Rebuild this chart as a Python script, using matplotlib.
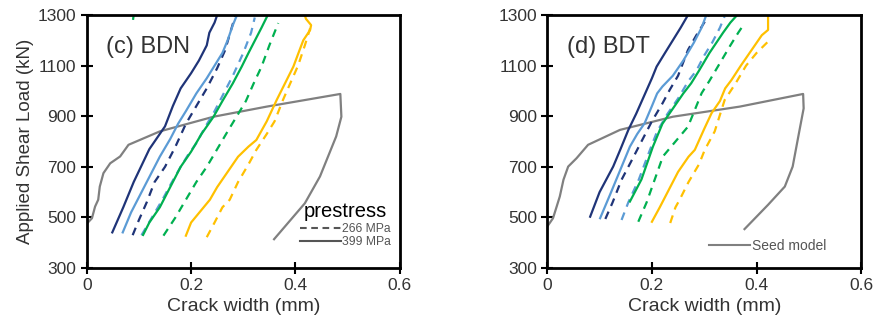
import matplotlib
matplotlib.use('Agg')
import matplotlib.pyplot as plt
from matplotlib.lines import Line2D

plt.rcParams['font.family'] = ['Liberation Sans', 'DejaVu Sans']

navy = '#1f3478'
lblue = '#5b9bd5'
green = '#00b050'
yellow = '#ffc000'
grey = '#808080'

# (c) BDN
c_navy_s_x = [0.049, 0.07, 0.09, 0.12, 0.13, 0.15, 0.165, 0.18, 0.2, 0.215, 0.23, 0.235, 0.245, 0.25]
c_navy_s_y = [441, 540, 640, 770, 800, 860, 940, 1010, 1070, 1120, 1180, 1230, 1270, 1300]
c_lblue_s_x = [0.069, 0.085, 0.1, 0.12, 0.14, 0.16, 0.175, 0.19, 0.21, 0.23, 0.245, 0.26, 0.27, 0.28, 0.288]
c_lblue_s_y = [441, 520, 580, 660, 740, 810, 870, 920, 990, 1050, 1100, 1150, 1200, 1260, 1300]
c_navy_d_x = [0.088, 0.1, 0.115, 0.13, 0.15, 0.17, 0.19, 0.21, 0.23, 0.25, 0.265, 0.275, 0.285]
c_navy_d_y = [430, 490, 560, 640, 700, 780, 870, 940, 1010, 1090, 1160, 1230, 1300]
c_lblue_d_x = [0.105, 0.125, 0.145, 0.162, 0.18, 0.195, 0.21, 0.225, 0.245, 0.26, 0.28, 0.3, 0.315, 0.322]
c_lblue_d_y = [430, 500, 570, 635, 700, 750, 793, 850, 920, 980, 1060, 1150, 1230, 1290]
c_green_s_x = [0.108, 0.12, 0.14, 0.16, 0.18, 0.2, 0.22, 0.243, 0.26, 0.28, 0.297, 0.31, 0.325, 0.335, 0.347]
c_green_s_y = [431, 480, 540, 620, 700, 760, 830, 898, 960, 1030, 1096, 1150, 1210, 1250, 1300]
c_green_d_x = [0.147, 0.17, 0.19, 0.21, 0.23, 0.25, 0.27, 0.287, 0.305, 0.32, 0.335, 0.35, 0.367]
c_green_d_y = [428, 500, 570, 640, 700, 770, 840, 898, 960, 1030, 1096, 1180, 1268]
c_yellow_s_x = [0.19, 0.2, 0.22, 0.236, 0.25, 0.27, 0.29, 0.31, 0.325, 0.345, 0.364, 0.38, 0.396, 0.408, 0.415, 0.428, 0.43, 0.42, 0.418]
c_yellow_s_y = [428, 480, 530, 570, 620, 680, 740, 780, 806, 880, 964, 1030, 1096, 1162, 1200, 1240, 1260, 1285, 1300]
c_yellow_d_x = [0.23, 0.245, 0.26, 0.274, 0.29, 0.31, 0.325, 0.345, 0.36, 0.376, 0.39, 0.405, 0.418, 0.428]
c_yellow_d_y = [422, 480, 540, 570, 640, 710, 767, 830, 880, 964, 1030, 1100, 1180, 1247]
c_green_top_x = [0.089, 0.09]
c_green_top_y = [1285, 1300]
c_seed_x = [0, 0, 0.01, 0.016, 0.022, 0.025, 0.032, 0.045, 0.064, 0.08, 0.14, 0.243, 0.345, 0.486, 0.488, 0.478, 0.447, 0.418, 0.359]
c_seed_y = [440, 475, 497, 543, 570, 622, 675, 714, 741, 787, 840, 898, 938, 988, 898, 820, 662, 556, 414]

# (d) BDT
d_navy_s_x = [0.082, 0.1, 0.126, 0.14, 0.155, 0.17, 0.185, 0.2, 0.209, 0.225, 0.24, 0.255, 0.269]
d_navy_s_y = [503, 600, 701, 770, 846, 910, 980, 1050, 1096, 1150, 1200, 1250, 1300]
d_lblue_s_x = [0.101, 0.12, 0.14, 0.158, 0.172, 0.186, 0.2, 0.21, 0.22, 0.24, 0.26, 0.28, 0.295, 0.304]
d_lblue_s_y = [497, 590, 690, 780, 830, 872, 940, 990, 1017, 1060, 1120, 1190, 1250, 1300]
d_navy_d_x = [0.111, 0.125, 0.142, 0.16, 0.18, 0.2, 0.22, 0.234, 0.25, 0.269, 0.285, 0.3, 0.309]
d_navy_d_y = [494, 560, 649, 720, 800, 880, 950, 1004, 1060, 1162, 1220, 1270, 1300]
d_lblue_d_x = [0.142, 0.155, 0.175, 0.195, 0.21, 0.23, 0.25, 0.27, 0.285, 0.3, 0.315, 0.33, 0.339]
d_lblue_d_y = [490, 560, 650, 760, 840, 910, 970, 1040, 1080, 1140, 1190, 1250, 1295]
d_green_s_x = [0.158, 0.18, 0.202, 0.22, 0.24, 0.26, 0.275, 0.29, 0.31, 0.336, 0.35, 0.363]
d_green_s_y = [563, 650, 780, 870, 930, 990, 1030, 1080, 1150, 1230, 1270, 1300]
d_green_d_x = [0.174, 0.19, 0.221, 0.245, 0.269, 0.295, 0.31, 0.33, 0.35, 0.365, 0.377]
d_green_d_y = [483, 560, 741, 800, 859, 991, 1040, 1110, 1180, 1230, 1267]
d_yellow_s_x = [0.2, 0.215, 0.23, 0.25, 0.27, 0.282, 0.3, 0.314, 0.33, 0.34, 0.352, 0.37, 0.39, 0.41, 0.422, 0.422]
d_yellow_s_y = [483, 540, 600, 680, 740, 767, 850, 912, 960, 1010, 1043, 1100, 1160, 1220, 1241, 1300]
d_yellow_d_x = [0.235, 0.245, 0.253, 0.27, 0.29, 0.301, 0.32, 0.339, 0.36, 0.38, 0.4, 0.422]
d_yellow_d_y = [478, 540, 570, 640, 710, 767, 840, 964, 1030, 1100, 1150, 1195]
d_seed_x = [0, 0.011, 0.018, 0.024, 0.031, 0.04, 0.056, 0.078, 0.139, 0.24, 0.368, 0.489, 0.49, 0.481, 0.469, 0.454, 0.422, 0.377]
d_seed_y = [464, 497, 543, 583, 649, 701, 734, 787, 846, 898, 938, 988, 931, 833, 701, 622, 550, 454]

dash = (0, (3.6, 2.8))
lw = 1.6

fig = plt.figure(figsize=(8.77, 3.33), dpi=100)
ax1 = fig.add_axes([0.0989, 0.195, 0.357, 0.760])
ax2 = fig.add_axes([0.624, 0.195, 0.358, 0.760])

def draw(ax, seed, lines):
    ax.plot(seed[0], seed[1], color=grey, lw=lw)
    for x, y, c, ls in lines:
        ax.plot(x, y, color=c, ls=ls, lw=lw)

draw(ax1, (c_seed_x, c_seed_y), [
    (c_yellow_d_x, c_yellow_d_y, yellow, dash),
    (c_yellow_s_x, c_yellow_s_y, yellow, '-'),
    (c_green_d_x, c_green_d_y, green, dash),
    (c_lblue_d_x, c_lblue_d_y, lblue, dash),
    (c_green_s_x, c_green_s_y, green, '-'),
    (c_navy_d_x, c_navy_d_y, navy, dash),
    (c_lblue_s_x, c_lblue_s_y, lblue, '-'),
    (c_navy_s_x, c_navy_s_y, navy, '-'),
    (c_green_top_x, c_green_top_y, green, '-'),
])
draw(ax2, (d_seed_x, d_seed_y), [
    (d_yellow_d_x, d_yellow_d_y, yellow, dash),
    (d_yellow_s_x, d_yellow_s_y, yellow, '-'),
    (d_green_d_x, d_green_d_y, green, dash),
    (d_lblue_d_x, d_lblue_d_y, lblue, dash),
    (d_green_s_x, d_green_s_y, green, '-'),
    (d_navy_d_x, d_navy_d_y, navy, dash),
    (d_lblue_s_x, d_lblue_s_y, lblue, '-'),
    (d_navy_s_x, d_navy_s_y, navy, '-'),
])

for ax, lab in [(ax1, '(c) BDN'), (ax2, '(d) BDT')]:
    ax.set_xlim(0, 0.6)
    ax.set_ylim(300, 1300)
    ax.set_xticks([0, 0.2, 0.4, 0.6])
    ax.set_xticklabels(['0', '0.2', '0.4', '0.6'])
    ax.set_yticks([300, 500, 700, 900, 1100, 1300])
    ax.tick_params(direction='inout', length=8, width=1.5, labelsize=12.5,
                   colors='black', labelcolor='#333333')
    for s in ax.spines.values():
        s.set_linewidth(2)
    ax.set_xlabel('Crack width (mm)', fontsize=14, color='#333333', labelpad=3)
    ax.text(0.037, 1175, lab, fontsize=17, color='#333333', va='center')

ax1.set_ylabel('Applied Shear Load (kN)', fontsize=13.5, color='#333333', labelpad=3)

h1 = [Line2D([], [], color='#555555', ls=(0, (3.2, 2.2)), lw=1.5),
      Line2D([], [], color='#555555', ls='-', lw=1.5)]
leg1 = ax1.legend(h1, ['266 MPa', '399 MPa'], title='prestress', loc='lower right',
                  bbox_to_anchor=(1.0, 0.045), frameon=False, fontsize=8.7,
                  title_fontsize=14.5, handlelength=3.4, handletextpad=0.1,
                  labelspacing=0.12, borderpad=0.2)
for t in leg1.get_texts():
    t.set_color('#555555')

h2 = [Line2D([], [], color=grey, lw=1.5)]
leg2 = ax2.legend(h2, ['Seed model'], loc='lower right', bbox_to_anchor=(0.93, 0.01),
                  frameon=False, fontsize=10, handlelength=3.0, handletextpad=0.15)
for t in leg2.get_texts():
    t.set_color('#555555')

plt.savefig('out.png', dpi=100)
plt.close()
